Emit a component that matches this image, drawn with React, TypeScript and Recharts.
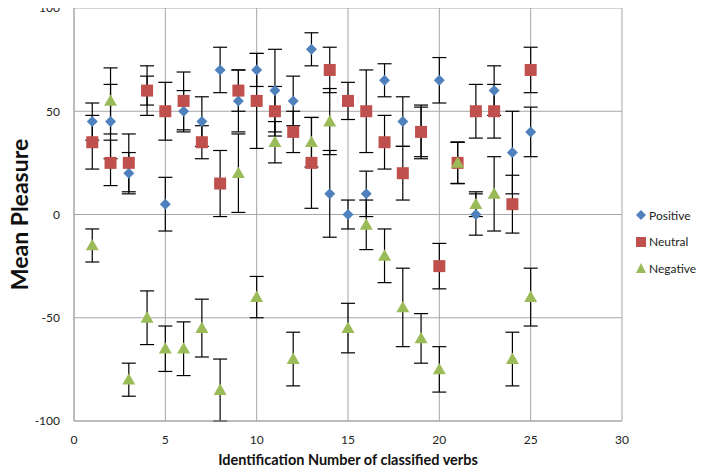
import {
  ScatterChart,
  Scatter,
  XAxis,
  YAxis,
  CartesianGrid,
  ErrorBar,
} from "recharts";

const verbIds = [1, 2, 3, 4, 5, 6, 7, 8, 9, 10, 11, 12, 13, 14, 15, 16, 17, 18, 19, 20, 21, 22, 23, 24, 25];

const positiveMeans = [45, 45, 20, 60, 5, 50, 45, 70, 55, 70, 60, 55, 80, 10, 0, 10, 65, 45, 40, 65, 25, 0, 60, 30, 40];
const positiveErr = [9, 18, 10, 7, 13, 10, 12, 11, 15, 8, 20, 12, 8, 21, 7, 11, 8, 12, 12, 11, 10, 10, 12, 20, 12];

const neutralMeans = [35, 25, 25, 60, 50, 55, 35, 15, 60, 55, 50, 40, 25, 70, 55, 50, 35, 20, 40, -25, 25, 50, 50, 5, 70];
const neutralErr = [13, 11, 14, 12, 14, 14, 8, 16, 10, 23, 12, 10, 22, 11, 9, 20, 13, 13, 13, 11, 10, 13, 13, 14, 11];

const negativeMeans = [-15, 55, -80, -50, -65, -65, -55, -85, 20, -40, 35, -70, 35, 45, -55, -5, -20, -45, -60, -75, 25, 5, 10, -70, -40];
const negativeErr = [8, 16, 8, 13, 11, 13, 14, 15, 19, 10, 10, 13, 12, 16, 12, 12, 13, 19, 12, 11, 10, 6, 18, 13, 14];

const xTicks = [0, 5, 10, 15, 20, 25, 30];
const yTicks = [-100, -50, 0, 50, 100];

const BLUE = "#4F81BD";
const RED = "#C0504D";
const GREEN = "#9BBB59";

function build(means: number[], errs: number[]) {
  return verbIds.map((id, i) => ({ x: id, y: means[i], err: errs[i] }));
}

const positiveData = build(positiveMeans, positiveErr);
const neutralData = build(neutralMeans, neutralErr);
const negativeData = build(negativeMeans, negativeErr);

const Diamond = (props: any) => {
  const { cx, cy } = props;
  const r = 5.5;
  return (
    <path
      d={`M${cx},${cy - r}L${cx + r},${cy}L${cx},${cy + r}L${cx - r},${cy}Z`}
      fill={BLUE}
    />
  );
};

const Square = (props: any) => {
  const { cx, cy } = props;
  const r = 6;
  return <rect x={cx - r} y={cy - r} width={r * 2} height={r * 2} fill={RED} />;
};

const Triangle = (props: any) => {
  const { cx, cy } = props;
  const r = 6.5;
  return (
    <path
      d={`M${cx},${cy - r}L${cx + r},${cy + r * 0.75}L${cx - r},${cy + r * 0.75}Z`}
      fill={GREEN}
    />
  );
};

const legendItems = [
  { name: "Positive", color: BLUE, kind: "diamond" },
  { name: "Neutral", color: RED, kind: "square" },
  { name: "Negative", color: GREEN, kind: "triangle" },
];

function ChartLegend() {
  return (
    <div
      style={{
        position: "absolute",
        left: 636,
        top: 202,
        fontFamily: "Lato, sans-serif",
        fontSize: 12,
        color: "#222",
      }}
    >
      {legendItems.map((it) => (
        <div key={it.name} style={{ display: "flex", alignItems: "center", height: 26.5 }}>
          <svg width={10} height={10} style={{ marginRight: 3 }}>
            {it.kind === "diamond" && <path d="M5,0L10,5L5,10L0,5Z" fill={it.color} />}
            {it.kind === "square" && <rect x={0} y={0} width={10} height={10} fill={it.color} />}
            {it.kind === "triangle" && <path d="M5,0L10,10L0,10Z" fill={it.color} />}
          </svg>
          <span>{it.name}</span>
        </div>
      ))}
    </div>
  );
}

export default function App() {
  return (
    <div
      style={{
        position: "relative",
        margin: -8,
        width: 708,
        height: 475,
        background: "#fff",
        fontFamily: "Lato, sans-serif",
      }}
    >
      <ScatterChart
        width={708}
        height={475}
        margin={{ top: 8, right: 86, bottom: 24, left: 0 }}
      >
        <CartesianGrid stroke="#a6a6a6" strokeWidth={1} />
        <XAxis
          type="number"
          dataKey="x"
          domain={[0, 30]}
          ticks={xTicks}
          height={30}
          tickLine={false}
          axisLine={{ stroke: "#a6a6a6" }}
          tick={{ fontSize: 12, fill: "#222" }}
          tickMargin={8}
          label={{
            value: "Identification Number of classified verbs",
            position: "insideBottom",
            offset: -14,
            style: { fontSize: 14.5, fontWeight: 700, fill: "#111" },
          }}
        />
        <YAxis
          type="number"
          dataKey="y"
          domain={[-100, 100]}
          ticks={yTicks}
          width={74}
          tickLine={false}
          axisLine={{ stroke: "#a6a6a6" }}
          tick={{ fontSize: 12, fill: "#222" }}
          tickMargin={8}
          label={{
            value: "Mean Pleasure",
            angle: -90,
            position: "insideLeft",
            offset: 20,
            style: { fontSize: 23, fontWeight: 700, fill: "#111", textAnchor: "middle" },
          }}
        />
        <Scatter name="Positive" data={positiveData} shape={<Diamond />} isAnimationActive={false}>
          <ErrorBar dataKey="err" direction="y" width={7} stroke="#000" strokeWidth={1.2} />
        </Scatter>
        <Scatter name="Neutral" data={neutralData} shape={<Square />} isAnimationActive={false}>
          <ErrorBar dataKey="err" direction="y" width={7} stroke="#000" strokeWidth={1.2} />
        </Scatter>
        <Scatter name="Negative" data={negativeData} shape={<Triangle />} isAnimationActive={false}>
          <ErrorBar dataKey="err" direction="y" width={7} stroke="#000" strokeWidth={1.2} />
        </Scatter>
      </ScatterChart>
      <ChartLegend />
    </div>
  );
}
